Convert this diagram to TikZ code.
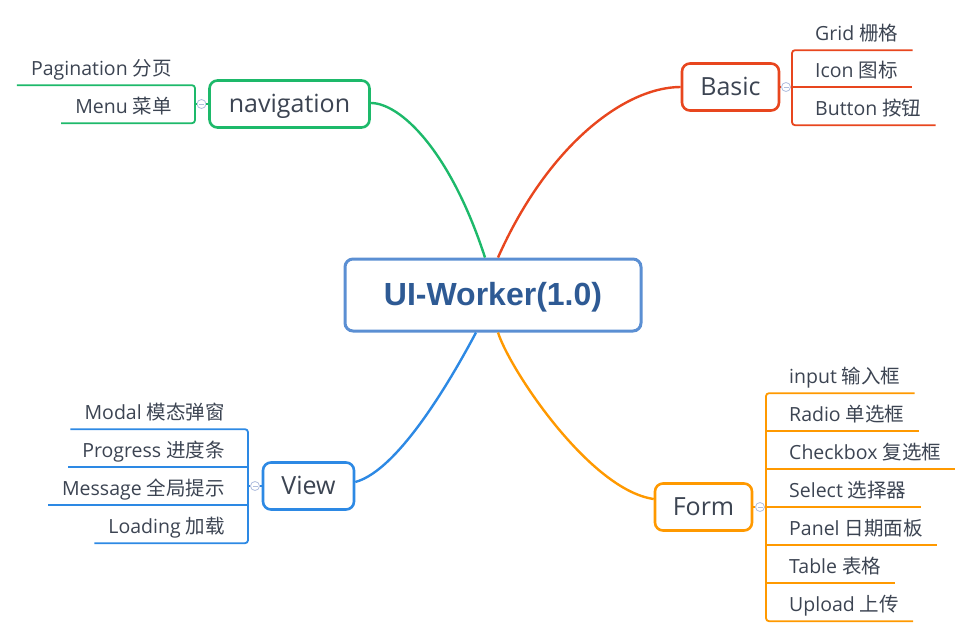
\documentclass[tikz,border=0pt]{standalone}
\usepackage{fontspec}
\setmainfont{Open Sans}
\newfontfamily\cjk{Noto Sans CJK SC}
\newfontfamily\titlefont{Liberation Sans}
\usetikzlibrary{positioning}
\definecolor{navgreen}{RGB}{29,185,106}
\definecolor{basicred}{RGB}{232,70,30}
\definecolor{formorange}{RGB}{255,153,0}
\definecolor{viewblue}{RGB}{45,137,228}
\definecolor{rootblue}{RGB}{91,143,211}
\definecolor{titleblue}{RGB}{46,90,148}
\definecolor{leaftext}{RGB}{60,68,82}
\definecolor{foldgray}{RGB}{176,190,222}
\tikzset{
 rootbox/.style
  = {rectangle, draw=rootblue, line width=3pt, rounded corners=8pt, fill=white,
     minimum width=296pt, minimum height=72pt, text=titleblue,
     text height=26pt, text depth=6pt,
     font=\titlefont\bfseries\fontsize{32}{32}\selectfont},
 branchbox/.style
  = {rectangle, line width=2.6pt, rounded corners=8pt, fill=white,
     minimum height=47pt, text=leaftext, text height=22pt, text depth=5pt,
     font=\fontsize{25}{25}\selectfont},
 leafnode/.style
  = {inner xsep=0pt, inner ysep=10pt, text depth=0pt, text=leaftext,
     font=\fontsize{19.5}{19.5}\selectfont},
 foldmark/.style
  = {circle, draw=foldgray, fill=white, line width=0.8pt, minimum size=9pt, inner sep=0pt,
     path picture={\draw[foldgray, line width=0.8pt]
       ([xshift=-2.5pt]path picture bounding box.center) -- ([xshift=2.5pt]path picture bounding box.center);}},
 curveline/.style
  = {draw, line width=2.4pt},
 leafline/.style
  = {draw, line width=1.8pt, rounded corners=3pt}
}
\begin{document}
\begin{tikzpicture}[x=1pt, y=-1pt]
    \useasboundingbox (0,0) rectangle (972,637);

    % root and branches
    \node [rootbox] (ui) at (493,295) {UI-Worker(1.0)};
    \node [branchbox, draw=navgreen, minimum width=160pt] (nav) at (289.5,104) {navigation};
    \node [branchbox, draw=basicred, minimum width=97pt] (basic) at (730.5,87) {Basic};
    \node [branchbox, draw=viewblue, minimum width=91pt] (view) at (308.5,486) {View};
    \node [branchbox, draw=formorange, minimum width=97pt] (form) at (703.5,507) {Form};

    \path [curveline, navgreen] ([xshift=-8pt]ui.north) .. controls (450,150) and (400,103) .. ([yshift=1pt]nav.east);
    \path [curveline, basicred] ([xshift=5pt]ui.north) .. controls (548,145) and (625,87) .. (basic.west);
    \path [curveline, viewblue] ([xshift=-17pt]ui.south) .. controls (455,372) and (400,470) .. ([yshift=4pt]view.east);
    \path [curveline, formorange] ([xshift=5pt]ui.south) .. controls (510,370) and (590,490) .. ([yshift=8pt]form.west);

    % navigation
    \node [foldmark] (navfold) at (201.5,104) {};
    \coordinate (navbar) at (195,104);
    \node [leafnode, anchor=base east] (pagination) at (172,75) {Pagination {\cjk 分页}};
    \node [leafnode, anchor=base east] (menu) at (172,113) {Menu {\cjk 菜单}};
    \path [leafline, navgreen] ([xshift=-14pt]pagination.south west) -- ([xshift=23pt]pagination.south east)
        -- ([xshift=23pt]menu.south east) -- ([xshift=-14pt]menu.south west);
    \path [leafline, navgreen] (nav.west) -- (navfold.east);
    \path [leafline, navgreen] (navfold.west) -- (navbar);

    % basic
    \node [foldmark] (basicfold) at (786,87) {};
    \node [leafnode, anchor=base west] (grid) at (815,40) {Grid {\cjk 栅格}};
    \node [leafnode, anchor=base west] (icon) at (815,77) {Icon {\cjk 图标}};
    \node [leafnode, anchor=base west] (button) at (815,115) {Button {\cjk 按钮}};
    \path [leafline, basicred] ([xshift=14pt]grid.south east) -- ([xshift=-23pt]grid.south west)
        -- ([xshift=-23pt]button.south west) -- ([xshift=14pt]button.south east);
    \path [leafline, basicred] ([xshift=-23pt]icon.south west) -- ([xshift=14pt]icon.south east);
    \path [leafline, basicred] (basic.east) -- (basicfold.west);
    \path [leafline, basicred] (basicfold.east) -- ([xshift=-23pt]icon.south west);

    % view
    \node [foldmark] (viewfold) at (255,486) {};
    \coordinate (viewbar) at (248,486);
    \node [leafnode, anchor=base east] (modal) at (225,419) {Modal {\cjk 模态弹窗}};
    \node [leafnode, anchor=base east] (progress) at (225,457) {Progress {\cjk 进度条}};
    \node [leafnode, anchor=base east] (message) at (225,495) {Message {\cjk 全局提示}};
    \node [leafnode, anchor=base east] (loading) at (225,533) {Loading {\cjk 加载}};
    \path [leafline, viewblue] ([xshift=-14pt]modal.south west) -- ([xshift=23pt]modal.south east)
        -- ([xshift=23pt]loading.south east) -- ([xshift=-14pt]loading.south west);
    \path [leafline, viewblue] ([xshift=23pt]progress.south east) -- ([xshift=-14pt]progress.south west);
    \path [leafline, viewblue] ([xshift=23pt]message.south east) -- ([xshift=-14pt]message.south west);
    \path [leafline, viewblue] (view.west) -- (viewfold.east);
    \path [leafline, viewblue] (viewfold.west) -- (viewbar);

    % form
    \node [foldmark] (formfold) at (760,507) {};
    \node [leafnode, anchor=base west] (input) at (789,383) {input {\cjk 输入框}};
    \node [leafnode, anchor=base west] (radio) at (789,421) {Radio {\cjk 单选框}};
    \node [leafnode, anchor=base west] (checkbox) at (789,459) {Checkbox {\cjk 复选框}};
    \node [leafnode, anchor=base west] (select) at (789,497) {Select {\cjk 选择器}};
    \node [leafnode, anchor=base west] (panel) at (789,535) {Panel {\cjk 日期面板}};
    \node [leafnode, anchor=base west] (table) at (789,573) {Table {\cjk 表格}};
    \node [leafnode, anchor=base west] (upload) at (789,611) {Upload {\cjk 上传}};
    \path [leafline, formorange] ([xshift=14pt]input.south east) -- ([xshift=-23pt]input.south west)
        -- ([xshift=-23pt]upload.south west) -- ([xshift=14pt]upload.south east);
    \path [leafline, formorange] ([xshift=-23pt]radio.south west) -- ([xshift=14pt]radio.south east);
    \path [leafline, formorange] ([xshift=-23pt]checkbox.south west) -- ([xshift=14pt]checkbox.south east);
    \path [leafline, formorange] ([xshift=-23pt]select.south west) -- ([xshift=14pt]select.south east);
    \path [leafline, formorange] ([xshift=-23pt]panel.south west) -- ([xshift=14pt]panel.south east);
    \path [leafline, formorange] ([xshift=-23pt]table.south west) -- ([xshift=14pt]table.south east);
    \path [leafline, formorange] (form.east) -- (formfold.west);
    \path [leafline, formorange] (formfold.east) -- ([xshift=-23pt]select.south west);

\end{tikzpicture}
\end{document}
